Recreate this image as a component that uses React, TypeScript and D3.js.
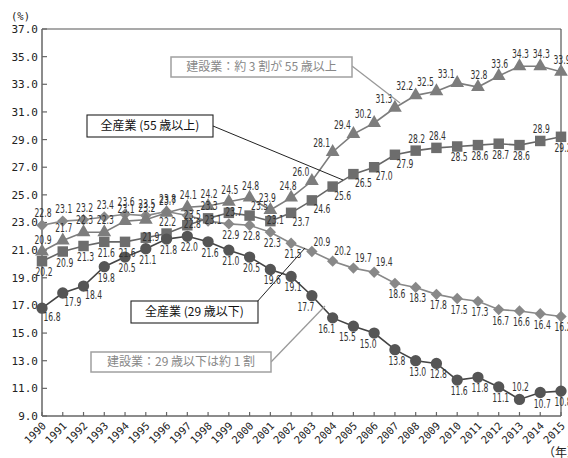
import React from 'react';
import * as d3 from 'd3';

const years = [1990, 1991, 1992, 1993, 1994, 1995, 1996, 1997, 1998, 1999, 2000, 2001, 2002, 2003, 2004, 2005, 2006, 2007, 2008, 2009, 2010, 2011, 2012, 2013, 2014, 2015];
const yTicks = [9, 11, 13, 15, 17, 19, 21, 23, 25, 27, 29, 31, 33, 35, 37];

// 建設業 55歳以上 (triangles)
const constr55 = [20.9, 21.7, 22.3, 22.3, 23.1, 23.2, 23.7, 24.1, 24.2, 24.5, 24.8, 23.9, 24.8, 26.0, 28.1, 29.4, 30.2, 31.3, 32.2, 32.5, 33.1, 32.8, 33.6, 34.3, 34.3, 33.9];
// 建設業 29歳以下 (circles)
const constr29 = [16.8, 17.9, 18.4, 19.8, 20.5, 21.1, 21.8, 22.0, 21.6, 21.0, 20.5, 19.6, 19.1, 17.7, 16.1, 15.5, 15.0, 13.8, 13.0, 12.8, 11.6, 11.8, 11.1, 10.2, 10.7, 10.8];
// 全産業 55歳以上 (squares)
const all55 = [20.2, 20.9, 21.3, 21.6, 21.6, 21.9, 22.2, 22.8, 23.3, 23.7, 23.5, 23.1, 23.7, 24.6, 25.6, 26.5, 27.0, 27.9, 28.2, 28.4, 28.5, 28.6, 28.7, 28.6, 28.9, 29.2];
// 全産業 29歳以下 (diamonds)
const all29 = [22.8, 23.1, 23.2, 23.4, 23.6, 23.5, 23.8, 23.5, 23.1, 22.9, 22.8, 22.3, 21.5, 20.9, 20.2, 19.7, 19.4, 18.6, 18.3, 17.8, 17.5, 17.3, 16.7, 16.6, 16.4, 16.2];

const calloutTexts = ['建設業：約 3 割が 55 歳以上', '全産業 (55 歳以上)', '全産業 (29 歳以下)', '建設業：29 歳以下は約 1 割'];

// label placement codes (layout only)
const placeConstr55 = ['a','a','a','a','a','a','a','a','a','a','a','a2','a2','al','al','al','al','al','al','al','al','a','a','a','a','a'];
const placeConstr29 = ['br','br','br','b','b','b','b','b','b','b','b','b','b','bl','bl','bl','bl','b','b','b','b','b','b','a','b','b'];
const placeAll55 = ['b','b','b','b','b','o','a','o','a','o','ar','o','br','br','br','br','br','br','a','a','b','b','b','b','a','b'];
const placeAll29 = ['a','a','a','a','a','a','a','o','o','b','b','b','b','ar','ar','ar','ar','b','b','b','b','b','b','b','b','b'];

const OFF: Record<string, [number, number]> = {
  a: [1, -8],
  a2: [-3, -8],
  b: [2, 15],
  al: [-11, -5],
  ar: [10, -6],
  br: [10, 13],
  bl: [-6, 15],
  o: [5, 3],
};

const W = 568;
const H = 458;
const x = d3.scaleLinear().domain([1990, 2015]).range([42, 561]);
const y = d3.scaleLinear().domain([9, 37]).range([416, 29]);
const fmt = d3.format('.1f');

const labelFont = "'Liberation Sans Narrow','DejaVu Sans Condensed','Arial Narrow','Liberation Sans',sans-serif";
const monoFont = "'DejaVu Sans Mono','Liberation Mono',monospace";
const cjkFont = "'Noto Sans CJK JP','Noto Sans',sans-serif";

type Series = {
  values: number[];
  place: string[];
  symbol: d3.SymbolType;
  size: number;
  rotate: number;
  fill: string;
  stroke: string;
};

const series: Series[] = [
  { values: all29, place: placeAll29, symbol: d3.symbolSquare, size: 64, rotate: 45, fill: '#888', stroke: '#888' },
  { values: all55, place: placeAll55, symbol: d3.symbolSquare, size: 110, rotate: 0, fill: '#6d6d6d', stroke: '#666' },
  { values: constr55, place: placeConstr55, symbol: d3.symbolTriangle, size: 82, rotate: 0, fill: '#7d7d7d', stroke: '#7d7d7d' },
  { values: constr29, place: placeConstr29, symbol: d3.symbolCircle, size: 100, rotate: 0, fill: '#555', stroke: '#444' },
];

export default function App() {
  const line = d3
    .line<number>()
    .x((_, i) => x(years[i]))
    .y((d) => y(d));

  return (
    <svg
      width={W}
      height={H}
      style={{ position: 'absolute', left: 0, top: 0, background: '#fff' }}
    >
      {/* frame */}
      <line x1={x(1990)} x2={x(2015)} y1={y(37)} y2={y(37)} stroke="#555" strokeWidth={1.2} />
      <line x1={x(2015)} x2={x(2015)} y1={y(37)} y2={y(9)} stroke="#555" strokeWidth={1.2} />
      <line x1={x(1990)} x2={x(1990)} y1={y(37)} y2={y(9)} stroke="#666" strokeWidth={1.5} />
      <line x1={x(1990)} x2={x(2015)} y1={y(9)} y2={y(9)} stroke="#666" strokeWidth={1.5} />

      {/* y ticks */}
      {yTicks.map((t) => (
        <g key={'yt' + t}>
          <line x1={x(1990)} x2={x(1990) + 5} y1={y(t)} y2={y(t)} stroke="#666" strokeWidth={1.2} />
          <text
            x={38}
            y={y(t)}
            dy="0.36em"
            textAnchor="end"
            fontFamily={monoFont}
            fontSize={11}
            fill="#222"
          >
            {fmt(t)}
          </text>
        </g>
      ))}
      <text x={11} y={20} fontFamily={monoFont} fontSize={10.5} fill="#222">(%)</text>

      {/* x ticks */}
      {years.map((yr) => (
        <g key={'xt' + yr}>
          <line x1={x(yr)} x2={x(yr)} y1={y(9)} y2={y(9) - 4} stroke="#666" strokeWidth={1.2} />
          <text
            transform={`translate(${x(yr) + 2},${y(9) + 8}) rotate(-45)`}
            textAnchor="end"
            dy="0.35em"
            fontFamily={monoFont}
            fontSize={10.5}
            fill="#222"
          >
            {yr}
          </text>
        </g>
      ))}
      <text x={543} y={457} fontFamily={cjkFont} fontSize={12} fill="#222">（年）</text>

      {/* lines */}
      {series.map((s, k) => (
        <path key={'ln' + k} d={line(s.values) || ''} fill="none" stroke={s.stroke} strokeWidth={1.6} />
      ))}
      {/* markers */}
      {series.map((s, k) => (
        <g key={'mk' + k}>
          {s.values.map((v, i) => (
            <path
              key={i}
              d={d3.symbol().type(s.symbol).size(s.size)() || ''}
              transform={`translate(${x(years[i])},${y(v)}) rotate(${s.rotate})`}
              fill={s.fill}
            />
          ))}
        </g>
      ))}
      {/* labels */}
      {series.map((s, k) => (
        <g key={'lb' + k}>
          {s.values.map((v, i) => {
            const o = OFF[s.place[i]] || OFF.a;
            return (
              <text
                key={i}
                x={x(years[i]) + o[0]}
                y={y(v) + o[1]}
                textAnchor="middle"
                fontFamily={labelFont}
                fontSize={12.5}
                fill="#333"
                textLength={17}
                lengthAdjust="spacingAndGlyphs"
              >
                {fmt(v)}
              </text>
            );
          })}
        </g>
      ))}

      {/* callouts */}
      <line x1={352} y1={66} x2={400} y2={103} stroke="#999" strokeWidth={1.3} />
      <rect x={171} y={57} width={181} height={20} fill="#fff" stroke="#a0a0a0" strokeWidth={1.5} />
      <text x={261.5} y={67} dy="0.36em" textAnchor="middle" fontFamily={cjkFont} fontSize={12} fill="#888">
        {calloutTexts[0]}
      </text>

      <line x1={213} y1={126} x2={343} y2={180} stroke="#222" strokeWidth={1} />
      <rect x={87} y={115} width={126} height={22} fill="#fff" stroke="#222" strokeWidth={1.1} />
      <text x={150} y={126} dy="0.36em" textAnchor="middle" fontFamily={cjkFont} fontSize={12} fill="#111">
        {calloutTexts[1]}
      </text>

      <line x1={256} y1={303} x2={305} y2={248} stroke="#222" strokeWidth={1} />
      <rect x={131} y={301} width={127} height={22} fill="#fff" stroke="#222" strokeWidth={1.1} />
      <text x={194.5} y={312} dy="0.36em" textAnchor="middle" fontFamily={cjkFont} fontSize={12} fill="#111">
        {calloutTexts[2]}
      </text>

      <line x1={271} y1={362} x2={325} y2={306} stroke="#999" strokeWidth={1.3} />
      <rect x={91} y={352} width={180} height={20} fill="#fff" stroke="#a0a0a0" strokeWidth={1.5} />
      <text x={181} y={362} dy="0.36em" textAnchor="middle" fontFamily={cjkFont} fontSize={12} fill="#888">
        {calloutTexts[3]}
      </text>
    </svg>
  );
}
